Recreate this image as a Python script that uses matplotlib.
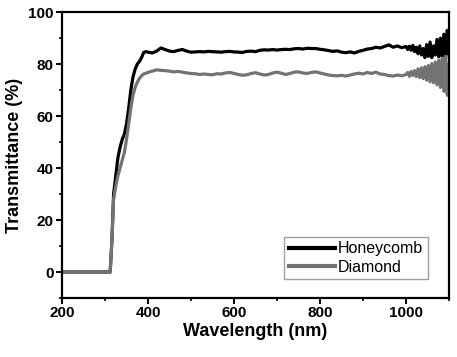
import numpy as np
import matplotlib
matplotlib.use('Agg')
from matplotlib import pyplot as plt
from matplotlib.ticker import MultipleLocator

plt.rcParams['font.family'] = ['Liberation Sans', 'DejaVu Sans']

# wavelength grid (nm)
wl = np.concatenate([
    [200, 300, 312, 316, 320, 325, 330, 335, 340, 345, 350, 355, 360,
     365, 370, 375, 380, 385, 390, 395, 400],
    np.arange(410, 1001, 10),
    np.arange(1004, 1101, 4),
])

honeycomb = [
    0, 0, 0, 12, 30, 37, 44, 48, 51, 53, 57, 63, 70, 75, 78, 80, 81, 82.5,
    84.5, 84.8, 84.6,
    # 410 - 1000
    84.3, 85.0, 86.2, 85.6, 85.0, 84.8, 85.3, 85.6, 85.0, 84.6,
    84.7, 84.8, 84.7, 84.9, 84.8, 84.7, 84.6, 84.8, 84.9, 84.7,
    84.6, 84.5, 84.9, 85.0, 84.8, 85.3, 85.5, 85.4, 85.6, 85.4,
    85.6, 85.7, 85.6, 85.9, 86.0, 85.8, 86.1, 86.0, 86.0, 85.7,
    85.5, 85.2, 84.9, 85.1, 84.6, 84.4, 84.7, 84.3, 84.9, 85.3,
    85.8, 86.0, 86.5, 86.2, 86.8, 87.4, 86.5, 87.0, 86.3, 86.8,
    # 1004 - 1100
    85.6, 86.9, 85.3, 87.2, 84.8, 86.5, 84.0, 87.0, 83.5, 86.0,
    82.5, 87.5, 83.0, 88.5, 82.5, 87.0, 83.5, 89.5, 82.8, 90.0,
    83.0, 91.5, 82.0, 93.0, 84.0,
]

diamond = [
    0, 0, 0, 12, 28, 33, 37, 40, 43, 46, 51, 57, 63, 68, 71, 73, 74.5, 75.5,
    76.2, 76.5, 76.8,
    # 410 - 1000
    77.3, 77.8, 77.6, 77.5, 77.3, 77.0, 77.2, 76.9, 76.6, 76.4,
    76.3, 76.0, 76.2, 76.0, 75.9, 76.3, 76.2, 76.6, 76.8, 76.4,
    76.0, 75.7, 75.9, 76.4, 76.7, 76.2, 75.8, 76.0, 76.6, 76.9,
    76.5, 76.0, 76.4, 76.9, 77.0, 76.6, 76.4, 76.8, 77.0, 76.6,
    76.2, 75.8, 75.6, 75.5, 75.7, 75.4, 75.8, 76.2, 76.5, 76.2,
    76.8, 76.4, 76.9, 76.2, 76.0, 75.6, 75.4, 75.8, 75.5, 76.0,
    # 1004 - 1100
    76.8, 75.3, 77.2, 75.6, 77.5, 75.2, 78.2, 74.8, 78.6, 74.4,
    79.0, 73.8, 79.5, 73.2, 80.2, 72.8, 80.8, 72.0, 81.5, 71.0,
    82.3, 69.5, 83.0, 68.0, 80.0,
]

fig = plt.figure(figsize=(4.57, 3.57), dpi=100)
ax = fig.add_axes([0.1357, 0.1653, 0.8468, 0.8007])

ax.plot(wl, honeycomb, color='black', lw=2.3, label='Honeycomb')
ax.plot(wl, diamond, color='#737373', lw=2.3, label='Diamond')

ax.set_xlim(200, 1100)
ax.set_ylim(-10, 100)
ax.xaxis.set_major_locator(MultipleLocator(200))
ax.xaxis.set_minor_locator(MultipleLocator(100))
ax.yaxis.set_major_locator(MultipleLocator(20))
ax.yaxis.set_minor_locator(MultipleLocator(10))

for s in ax.spines.values():
    s.set_linewidth(1.6)
ax.tick_params(which='major', direction='out', length=4, width=1.4,
               labelsize=11, pad=2)
ax.tick_params(which='minor', direction='out', length=2.5, width=1.2)
for lab in ax.get_xticklabels() + ax.get_yticklabels():
    lab.set_fontweight('bold')

ax.set_xlabel('Wavelength (nm)', fontsize=13, fontweight='bold', labelpad=2)
ax.set_ylabel('Transmittance (%)', fontsize=13, fontweight='bold', labelpad=4)

leg = ax.legend(loc='lower right', bbox_to_anchor=(0.945, 0.065), fontsize=11.5,
                frameon=True, fancybox=False, handlelength=2.9,
                handletextpad=0.15, borderpad=0.3, labelspacing=0.2,
                borderaxespad=0)
leg.get_frame().set_edgecolor('#888888')
leg.get_frame().set_linewidth(1.0)
for ln in leg.get_lines():
    ln.set_linewidth(3)

fig.savefig('out.png', dpi=100)
